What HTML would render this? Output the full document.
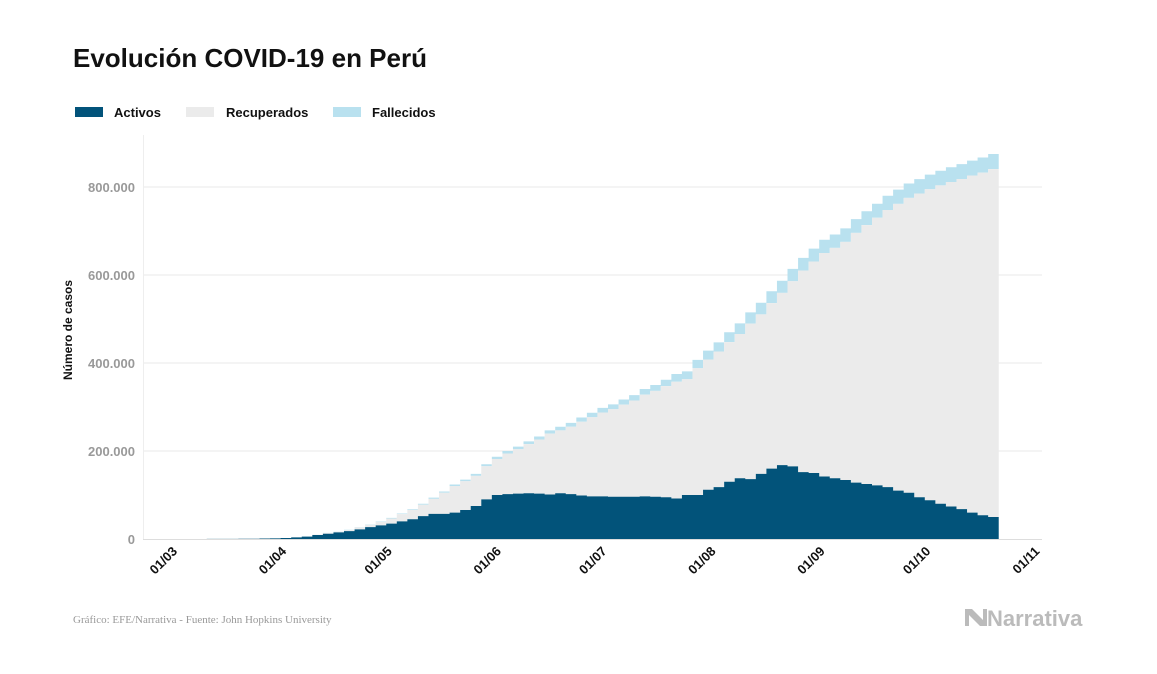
<!DOCTYPE html>
<html><head><meta charset="utf-8"><style>
body{margin:0;background:#fff;width:1157px;height:674px;overflow:hidden;font-family:"Liberation Sans",sans-serif}
svg{display:block}
</style></head><body>
<svg id="chart" width="1157" height="674" xmlns="http://www.w3.org/2000/svg">
<text x="73" y="67" font-size="26" font-weight="bold" fill="#111">Evolución COVID-19 en Perú</text>
<g font-size="13" font-weight="bold" fill="#111">
<rect x="75" y="107" width="28" height="10" fill="#02537a"/>
<text x="114" y="117">Activos</text>
<rect x="186" y="107" width="28" height="10" fill="#ebebeb"/>
<text x="226" y="117">Recuperados</text>
<rect x="333" y="107" width="28" height="10" fill="#b9e1ef"/>
<text x="372" y="117">Fallecidos</text>
</g>
<g id="grid"></g>
<g id="marks"></g>
<g id="axes"></g>
<text transform="translate(72,330) rotate(-90)" text-anchor="middle" font-size="12" font-weight="bold" fill="#111">Número de casos</text>
<text x="73" y="623" font-family="Liberation Serif, serif" font-size="11" fill="#999">Gráfico: EFE/Narrativa - Fuente: John Hopkins University</text>
<g>
<path d="M965 609 L972 609 L983 620 L983 609 L987 609 L987 626 L980 626 L969 615 L969 626 L965 626 Z" fill="#bbb"/>
<text x="987" y="626" font-size="22" font-weight="bold" fill="#bbb">Narrativa</text>
</g>
</svg>
<script>
const startDay = 2, stepDays = 3;
const totals = [0,0,0.1,0.2,0.3,0.4,0.5,0.7,1.0,1.6,2.3,4,6,10,14,17,21,27,33,40,48,58,68,80,94,108,124,135,148,170,187,200,210,222,233,247,255,264,276,287,298,306,317,327,341,350,362,375,381,407,428,447,470,490,515,537,563,587,614,639,660,680,692,706,727,745,762,780,794,808,818,828,837,845,852,860,867,875];
const deaths = [0,0,0,0,0,0,0,0.01,0.02,0.05,0.1,0.15,0.2,0.28,0.35,0.45,0.57,0.7,0.9,1.1,1.4,1.6,1.9,2.3,2.7,3.0,3.5,3.8,4.4,4.8,5.3,5.7,6.1,6.5,7.0,7.6,8.2,8.8,9.5,10.2,10.6,11.1,11.5,12.2,12.9,13.4,14.5,17.5,18.0,19.0,20.0,21.0,22.5,24.0,25.5,26.5,27.0,27.5,28.2,28.8,29.4,30.0,30.4,30.8,31.2,31.6,31.9,32.2,32.4,32.6,32.8,33.1,33.3,33.6,33.8,34.0,34.2,34.3];
const active = [0,0,0.1,0.2,0.3,0.4,0.5,0.7,1.0,1.5,2.2,3.8,5.5,9,12,15,18,22,27,31,35,40,45,52,57,57,60,66,75,90,100,102,103,104,103,101,104,102,99,97,97,96,96,96,97,96,95,92,100,100,112,118,130,138,136,148,160,168,165,152,150,142,138,134,128,125,122,118,110,105,95,88,80,74,68,60,54,50];
const yTicks = [0,200000,400000,600000,800000];
const yTickLabels = ["0","200.000","400.000","600.000","800.000"];
const xTickDays = [0,31,61,92,122,153,184,214,245];
const xTickLabels = ["01/03","01/04","01/05","01/06","01/07","01/08","01/09","01/10","01/11"];

const NS="http://www.w3.org/2000/svg";
const x = d => 168 + d*3.52;
const y = v => 539 - v/200000*88;
function mk(tag, attrs, parent){const e=document.createElementNS(NS,tag);for(const k in attrs)e.setAttribute(k,attrs[k]);parent.appendChild(e);return e;}
const grid=document.getElementById('grid'), marks=document.getElementById('marks'), axes=document.getElementById('axes');
yTicks.forEach((t,i)=>{
  if(t>0){const l=mk('line',{x1:143,x2:1042,y1:y(t),y2:y(t),stroke:'#e8e8e8','stroke-width':1},grid);
  
  }
  const tx=mk('text',{x:135,y:y(t)+5,'text-anchor':'end','font-size':13,'font-weight':'bold',fill:'#999'},axes);
  tx.textContent=yTickLabels[i];
  
  
});
const bl=mk('line',{x1:143,x2:1042,y1:539.5,y2:539.5,stroke:'#ddd','stroke-width':1},axes);


const yl=mk('line',{x1:143.5,x2:143.5,y1:135,y2:539,stroke:'#eee','stroke-width':1},axes);


xTickDays.forEach((d,i)=>{
  const tx=mk('text',{transform:`translate(${x(d)+10},552) rotate(-45)`,'text-anchor':'end','font-size':13,'font-weight':'bold',fill:'#111'},axes);
  tx.textContent=xTickLabels[i];
  
  
});
function stepPath(top, bottom){
  let p='';const n=top.length;
  for(let i=0;i<n;i++){const d0=startDay+i*stepDays,d1=d0+stepDays;p+=(i?'L':'M')+x(d0)+' '+y(top[i])+'L'+x(d1)+' '+y(top[i]);}
  for(let i=n-1;i>=0;i--){const d0=startDay+i*stepDays,d1=d0+stepDays;p+='L'+x(d1)+' '+y(bottom[i])+'L'+x(d0)+' '+y(bottom[i]);}
  return p+'Z';
}
const k=1000;
const aTop=active.map(v=>v*k), zero=active.map(()=>0);
const rTop=totals.map((t,i)=>Math.max((t-deaths[i])*k,active[i]*k));
const dTop=totals.map((t,i)=>Math.max(t*k,rTop[i]));
const pd=mk('path',{d:stepPath(dTop,rTop),fill:'#b9e1ef'},marks);


const pr=mk('path',{d:stepPath(rTop,aTop),fill:'#ebebeb'},marks);


const pa=mk('path',{d:stepPath(aTop,zero),fill:'#02537a'},marks);


</script>
</body></html>
